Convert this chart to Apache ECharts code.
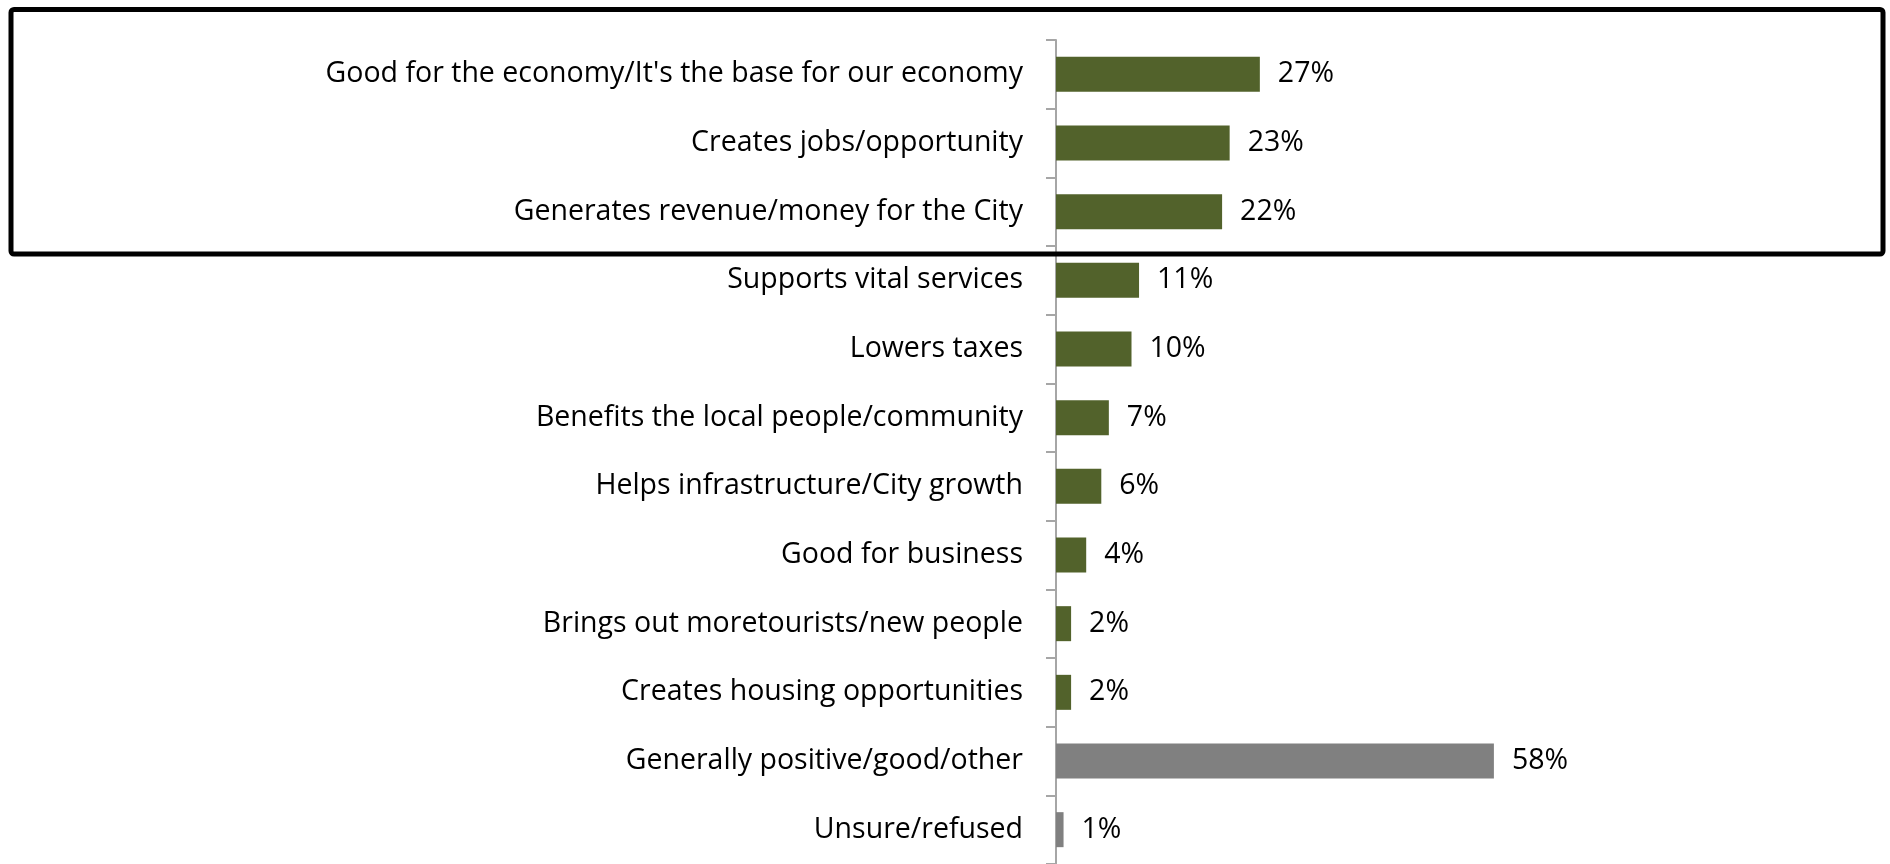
<!DOCTYPE html>
<html>
<head>
<meta charset="utf-8">
<script src="https://cdn.jsdelivr.net/npm/echarts@6/dist/echarts.min.js"></script>
<style>
  html, body { margin: 0; padding: 0; background: #ffffff; }
  #chart { width: 1890px; height: 864px; }
</style>
</head>
<body>
<div id="chart"></div>
<script>
// Reasons given, listed top to bottom
const categories = [
  "Good for the economy/It's the base for our economy",
  "Creates jobs/opportunity",
  "Generates revenue/money for the City",
  "Supports vital services",
  "Lowers taxes",
  "Benefits the local people/community",
  "Helps infrastructure/City growth",
  "Good for business",
  "Brings out moretourists/new people",
  "Creates housing opportunities",
  "Generally positive/good/other",
  "Unsure/refused"
];

// Share of respondents (%)
const values = [27, 23, 22, 11, 10, 7, 6, 4, 2, 2, 58, 1];

// Bar colours: specific reasons in olive, general/other answers in grey
const barColors = [
  "#52622b", "#52622b", "#52622b", "#52622b", "#52622b", "#52622b",
  "#52622b", "#52622b", "#52622b", "#52622b", "#808080", "#808080"
];

const FONT = "'Open Sans', Lato, sans-serif";

const chart = echarts.init(document.getElementById('chart'), null, { renderer: 'canvas' });

chart.setOption({
  backgroundColor: '#ffffff',
  animation: false,
  grid: { left: 1056, top: 40, width: 755, bottom: -4, containLabel: false },
  xAxis: {
    type: 'value',
    min: 0,
    max: 100,
    show: false
  },
  yAxis: {
    type: 'category',
    inverse: true,
    data: categories,
    axisLine: { show: true, lineStyle: { color: '#a6a6a6', width: 2 } },
    axisTick: { show: true, length: 10, lineStyle: { color: '#a6a6a6', width: 2 } },
    axisLabel: {
      margin: 33,
      color: '#000000',
      fontFamily: FONT,
      fontSize: 28.5,
      padding: [8, 0, 0, 0]
    },
    splitLine: { show: false }
  },
  series: [{
    type: 'bar',
    barWidth: 35,
    data: values.map((v, i) => ({
      value: v,
      itemStyle: { color: barColors[i] }
    })),
    label: {
      show: true,
      position: 'right',
      distance: 18,
      formatter: '{c}%',
      color: '#000000',
      fontFamily: FONT,
      fontSize: 28.5,
      padding: [8, 0, 0, 0]
    }
  }],
  graphic: [{
    // frame around the top three reasons
    type: 'rect',
    shape: { x: 11, y: 9.5, width: 1872, height: 244.5, r: 3 },
    style: { fill: null, stroke: '#000000', lineWidth: 5 },
    z: 10
  }]
});
</script>
</body>
</html>
